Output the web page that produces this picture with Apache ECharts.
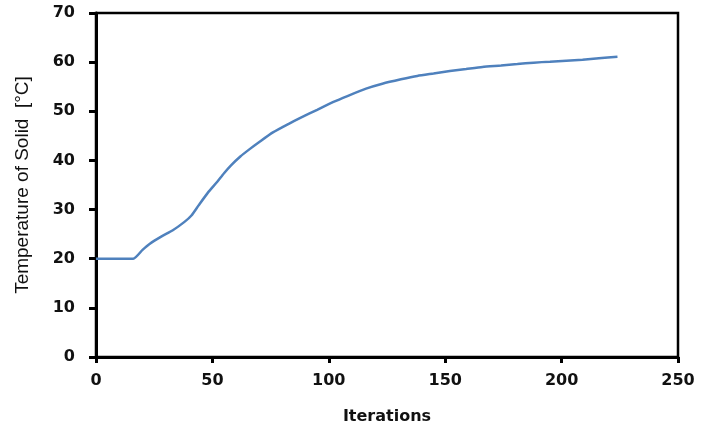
<!DOCTYPE html>
<html>
<head>
<meta charset="utf-8">
<script src="https://cdn.jsdelivr.net/npm/echarts@6/dist/echarts.min.js"></script>
<style>
  html, body { margin: 0; padding: 0; background: #fff; }
  #main { width: 715px; height: 431px; }
</style>
</head>
<body>
<div id="main"></div>
<script>
// iterations and solid temperature
const iterations = [0, 16, 20, 23, 28, 33, 38, 41, 44, 48, 52, 55, 58, 62, 66, 70, 76, 83, 88, 95,
  102, 108, 116, 123, 131, 138, 145, 152, 159, 166, 174, 181, 188, 195, 202, 209, 216, 224];
const temperature = [20, 20, 21.8, 23, 24.5, 25.8, 27.5, 28.8, 30.8, 33.4, 35.6, 37.4, 39.0, 40.8, 42.3, 43.7, 45.7, 47.5, 48.7, 50.3,
  51.9, 53.1, 54.6, 55.6, 56.5, 57.2, 57.7, 58.2, 58.6, 59, 59.3, 59.6, 59.9, 60.1, 60.3, 60.5, 60.8, 61.1];

const points = iterations.map((x, i) => [x, temperature[i]]);

const myChart = echarts.init(document.getElementById('main'));

const labelFont = {
  color: '#111',
  fontFamily: 'DejaVu Sans',
  fontWeight: 'bold',
  fontSize: 16
};

const option = {
  animation: false,
  grid: {
    left: 96,
    right: 37,
    top: 13,
    bottom: 74,
    show: true,
    borderColor: '#000',
    borderWidth: 2.5
  },
  xAxis: {
    type: 'value',
    min: 0,
    max: 250,
    interval: 50,
    name: 'Iterations',
    nameLocation: 'middle',
    nameGap: 52,
    nameTextStyle: labelFont,
    axisLine: { show: true, lineStyle: { color: '#000', width: 3 } },
    axisTick: { show: true, length: 6, lineStyle: { color: '#000', width: 3 } },
    axisLabel: Object.assign({ margin: 16 }, labelFont),
    splitLine: { show: false }
  },
  yAxis: {
    type: 'value',
    min: 0,
    max: 70,
    interval: 10,
    name: 'Temperature of Solid  [°C]',
    nameLocation: 'middle',
    nameGap: 64,
    nameTextStyle: {
      color: '#111',
      fontFamily: 'Liberation Sans Narrow, Liberation Sans',
      fontSize: 19
    },
    axisLine: { show: true, lineStyle: { color: '#000', width: 3 } },
    axisTick: { show: true, length: 7, lineStyle: { color: '#000', width: 3 } },
    axisLabel: Object.assign({ margin: 21 }, labelFont),
    splitLine: { show: false }
  },
  series: [
    {
      type: 'line',
      data: points,
      smooth: 0.2,
      showSymbol: false,
      lineStyle: { color: '#4f81bd', width: 2.5 }
    }
  ]
};

myChart.setOption(option);
</script>
</body>
</html>
